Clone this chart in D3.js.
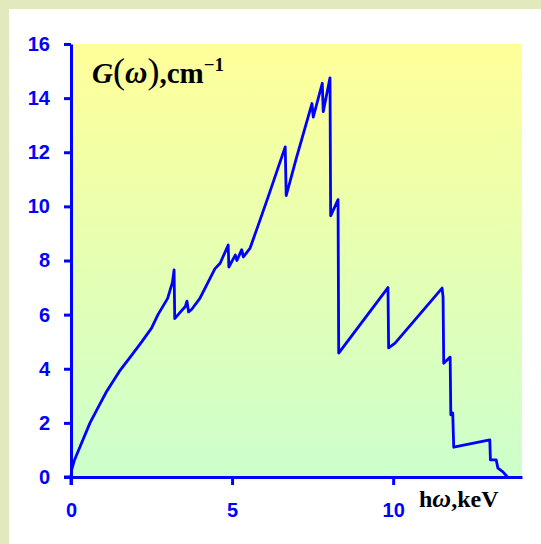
<!DOCTYPE html>
<html>
<head>
<meta charset="utf-8">
<script src="https://cdn.jsdelivr.net/npm/d3@7"></script>
<style>
  html, body { margin: 0; padding: 0; background: #e2e9bc; }
  svg { display: block; }
</style>
</head>
<body>
<div id="chart"></div>
<script>
// Photon energy (keV) and gain G (cm^-1).
var energy = [0, 0.02, 0.1, 0.28, 0.59, 0.9, 1.1, 1.5, 1.85, 2.2, 2.5, 2.7, 3.0, 3.15, 3.2,
  3.22, 3.4, 3.55, 3.6, 3.65, 3.75, 4.0, 4.47, 4.63, 4.88, 4.9, 5.1, 5.15, 5.3, 5.35, 5.56,
  5.87, 6.12, 6.65, 6.68, 7.0, 7.48, 7.52, 7.8, 7.83, 8.04, 8.06, 8.29, 8.31, 9.84, 9.86,
  10.06, 11.52, 11.55, 11.57, 11.77, 11.79, 11.85, 11.88, 13.0, 13.02, 13.2, 13.25, 13.4, 13.55];
var gain = [0, 0.26, 0.6, 1.12, 2.0, 2.7, 3.15, 3.9, 4.45, 5.0, 5.5, 6.0, 6.6, 7.2, 7.65,
  5.85, 6.1, 6.3, 6.5, 6.1, 6.2, 6.6, 7.7, 7.9, 8.57, 7.76, 8.2, 8.0, 8.4, 8.13, 8.46,
  9.5, 10.35, 12.2, 10.4, 11.8, 13.8, 13.3, 14.55, 13.5, 14.75, 9.65, 10.25, 4.58, 7.0, 4.77,
  4.95, 6.98, 6.65, 4.2, 4.43, 2.3, 2.37, 1.1, 1.37, 0.63, 0.63, 0.33, 0.2, 0];

var xTicks = [0, 5, 10];
var yTicks = [0, 2, 4, 6, 8, 10, 12, 14, 16];

var width = 541, height = 544;
var margin = { left: 72, top: 44, right: 19, bottom: 67 };
var blue = '#0000ff';

var svg = d3.select('#chart').append('svg')
    .attr('width', width)
    .attr('height', height);

// Gradient for the plot area.
var grad = svg.append('defs').append('linearGradient')
    .attr('id', 'bg')
    .attr('x1', 0).attr('y1', 0).attr('x2', 0).attr('y2', 1);
grad.append('stop').attr('offset', '0%').attr('stop-color', '#ffff99');
grad.append('stop').attr('offset', '100%').attr('stop-color', '#ccffcc');

// White panel.
svg.append('rect')
    .attr('x', 9).attr('y', 9)
    .attr('width', width - 9).attr('height', height - 9)
    .attr('fill', '#ffffff');

var x = d3.scaleLinear().domain([0, 14]).range([margin.left - 1, width - margin.right]);
var y = d3.scaleLinear().domain([0, 16]).range([height - margin.bottom, margin.top]);

svg.append('rect')
    .attr('x', x(0)).attr('y', y(16))
    .attr('width', x(14) - x(0)).attr('height', y(0) - y(16))
    .attr('fill', 'url(#bg)');

// Curve.
var pts = energy.map((e, i) => [e, gain[i]]);
var line = d3.line()
    .x(d => x(d[0]))
    .y(d => y(d[1]));

svg.append('path')
    .datum(pts)
    .attr('d', line)
    .attr('fill', 'none')
    .attr('stroke', blue)
    .attr('stroke-width', 2.8)
    .attr('stroke-linejoin', 'round');

// Axes.
var yAxis = svg.append('g')
    .attr('transform', 'translate(' + x(0) + ',0)')
    .call(d3.axisLeft(y).tickValues(yTicks).tickSize(7).tickSizeOuter(0).tickPadding(14));

var xAxis = svg.append('g')
    .attr('transform', 'translate(0,' + y(0) + ')')
    .call(d3.axisBottom(x).tickValues(xTicks).tickSize(8).tickSizeOuter(0).tickPadding(18));

[yAxis, xAxis].forEach(function (g) {
    g.select('.domain').attr('stroke', blue).attr('stroke-width', 3);
    g.selectAll('.tick line').attr('stroke', blue).attr('stroke-width', 3);
    g.selectAll('.tick text')
        .attr('fill', blue)
        .style('font-family', 'Liberation Sans, Arial, sans-serif')
        .style('font-weight', 'bold')
        .style('font-size', '20px');
});

// Axis extensions past the origin.
svg.append('line')
    .attr('x1', x(0)).attr('x2', x(0))
    .attr('y1', y(0)).attr('y2', y(0) + 8)
    .attr('stroke', blue).attr('stroke-width', 3);
svg.append('line')
    .attr('x1', x(0) - 7).attr('x2', x(0))
    .attr('y1', y(0)).attr('y2', y(0))
    .attr('stroke', blue).attr('stroke-width', 3);

// Titles.
var serif = 'Liberation Serif, Times New Roman, serif';
var title = svg.append('text')
    .attr('x', 92).attr('y', 83)
    .style('font-family', serif)
    .style('font-weight', 'bold')
    .style('font-size', '29px')
    .attr('fill', '#000');
title.append('tspan').style('font-style', 'italic').text('G');
title.append('tspan').style('font-size', '36px').style('font-weight', 'normal').text('(');
title.append('tspan').style('font-style', 'italic').style('font-size', '31px').text('ω');
title.append('tspan').style('font-size', '36px').style('font-weight', 'normal').text(')');
title.append('tspan').text(',cm');
title.append('tspan').attr('dy', -12).style('font-size', '19px').text('−1');

var xlab = svg.append('text')
    .attr('x', 419).attr('y', 507)
    .style('font-family', serif)
    .style('font-weight', 'bold')
    .style('font-size', '24px')
    .attr('fill', '#000');
xlab.append('tspan').text('h');
xlab.append('tspan').style('font-style', 'italic').style('font-size', '26px').text('ω');
xlab.append('tspan').text(',keV');
</script>
</body>
</html>
